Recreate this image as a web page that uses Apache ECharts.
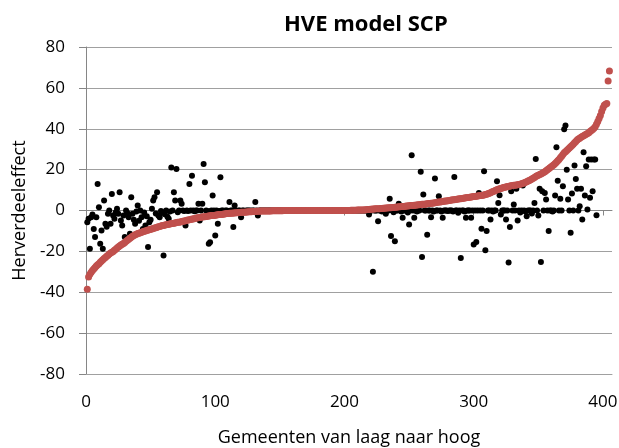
<!DOCTYPE html>
<html>
<head>
<meta charset="utf-8">
<script src="https://cdn.jsdelivr.net/npm/echarts@6/dist/echarts.min.js"></script>
<style>
  html, body { margin: 0; padding: 0; background: #fff; }
  #main { width: 619px; height: 448px; }
</style>
</head>
<body>
<div id="main"></div>
<script>
// herverdeeleffect per gemeente, gesorteerd (rode reeks)
// prettier-ignore
const redValues = [
  -38.5, -32.5, -31.2, -30.2, -29.4, -28.6, -27.9, -27.2, -26.6, -26.0,
  -25.3, -24.7, -24.1, -23.5, -23.0, -22.4, -21.9, -21.3, -20.8, -20.4,
  -20.0, -19.5, -19.0, -18.4, -17.9, -17.4, -16.9, -16.5, -16.1, -15.6,
  -15.1, -14.6, -14.1, -13.6, -13.1, -12.6, -12.2, -11.9, -11.6, -11.3,
  -11.1, -10.9, -10.6, -10.4, -10.2, -10.0, -9.8, -9.6, -9.4, -9.2,
  -9.0, -8.8, -8.6, -8.4, -8.2, -8.0, -7.8, -7.6, -7.4, -7.3,
  -7.1, -7.0, -6.8, -6.7, -6.6, -6.4, -6.3, -6.2, -6.1, -5.9,
  -5.8, -5.7, -5.6, -5.4, -5.3, -5.1, -5.0, -4.8, -4.7, -4.5,
  -4.4, -4.2, -4.1, -3.9, -3.8, -3.6, -3.5, -3.4, -3.3, -3.2,
  -3.1, -3.0, -2.9, -2.8, -2.7, -2.6, -2.5, -2.5, -2.4, -2.3,
  -2.2, -2.1, -2.0, -2.0, -1.9, -1.8, -1.7, -1.6, -1.5, -1.5,
  -1.4, -1.3, -1.3, -1.2, -1.2, -1.1, -1.1, -1.0, -1.0, -0.9,
  -0.9, -0.8, -0.8, -0.7, -0.7, -0.6, -0.6, -0.6, -0.5, -0.5,
  -0.5, -0.4, -0.4, -0.4, -0.3, -0.3, -0.3, -0.3, -0.2, -0.2,
  -0.2, -0.2, -0.2, -0.1, -0.1, -0.1, -0.1, -0.1, -0.1, -0.1,
  -0.1, -0.1, 0, 0, 0, 0, 0, 0, 0, 0,
  0, 0, 0, 0, 0, 0, 0, 0, 0, 0,
  0, 0, 0, 0, 0, 0, 0, 0, 0, 0,
  0, 0, 0, 0, 0, 0, 0, 0, 0, 0,
  0, 0, 0, 0, 0, 0, 0, 0, 0, 0,
  0, 0, 0, 0, 0.1, 0.1, 0.1, 0.1, 0.1, 0.2,
  0.2, 0.2, 0.3, 0.3, 0.3, 0.4, 0.4, 0.5, 0.5, 0.6,
  0.6, 0.7, 0.7, 0.8, 0.8, 0.9, 0.9, 1.0, 1.0, 1.1,
  1.1, 1.2, 1.2, 1.3, 1.3, 1.4, 1.5, 1.5, 1.6, 1.6,
  1.7, 1.8, 1.8, 1.9, 2.0, 2.0, 2.1, 2.2, 2.2, 2.3,
  2.4, 2.4, 2.5, 2.6, 2.6, 2.7, 2.8, 2.8, 2.9, 3.0,
  3.1, 3.1, 3.2, 3.3, 3.4, 3.4, 3.5, 3.6, 3.7, 3.8,
  3.9, 4.0, 4.1, 4.2, 4.3, 4.4, 4.5, 4.6, 4.7, 4.8,
  4.9, 5.0, 5.1, 5.2, 5.3, 5.4, 5.5, 5.6, 5.7, 5.8,
  5.9, 6.0, 6.1, 6.2, 6.3, 6.4, 6.5, 6.6, 6.7, 6.8,
  6.9, 7.0, 7.1, 7.2, 7.3, 7.4, 7.5, 7.6, 7.8, 8.0,
  8.2, 8.4, 8.7, 9.0, 9.3, 9.6, 9.9, 10.2, 10.4, 10.6,
  10.8, 11.0, 11.2, 11.4, 11.5, 11.7, 11.8, 12.0, 12.1, 12.2,
  12.3, 12.4, 12.5, 12.6, 12.7, 12.9, 13.1, 13.3, 13.5, 13.8,
  14.1, 14.4, 14.7, 15.0, 15.4, 15.8, 16.2, 16.6, 17.0, 17.3,
  17.6, 17.9, 18.2, 18.6, 19.0, 19.4, 19.9, 20.4, 20.9, 21.4,
  21.9, 22.4, 23.0, 23.6, 24.3, 25.0, 25.8, 26.6, 27.4, 28.2,
  28.8, 29.4, 30.0, 30.6, 31.2, 31.8, 32.4, 33.1, 33.8, 34.5,
  35.0, 35.4, 35.8, 36.2, 36.6, 37.0, 37.3, 37.7, 38.1, 38.6,
  39.1, 39.6, 40.2, 41.0, 42.2, 43.6, 45.0, 46.5, 48.5, 50.2,
  51.5, 52.0, 52.3, 63.4, 68.3
];

// tweede reeks (zwart), zelfde volgorde van gemeenten
// prettier-ignore
const blackValues = [
  -5.7, -4.0, -18.7, -3.3, -2.0, -9.0, -13.0, -3.3, 13.0, 1.6,
  -16.3, -9.8, -18.7, 4.9, -6.5, -8.0, -1.6, 0.0, -6.5, 8.1,
  -2.4, -4.0, -0.8, 0.8, -1.6, 8.9, -4.9, -7.3, -2.4, -13.0,
  0.0, -1.2, -3.3, -11.4, 6.5, -1.6, -4.5, -6.5, -0.5, 2.4,
  -5.0, 0.0, -3.3, -9.0, -1.0, -7.3, -2.8, -17.9, -5.7, -4.5,
  0.8, 4.9, 6.5, -1.5, 8.9, -2.4, -3.3, -0.3, -0.8, -22.0,
  -1.8, 0.0, -3.0, -4.0, -0.5, 21.1, 0.0, 8.9, 4.9, 20.3,
  -0.8, 0.0, 4.9, 3.3, 0.0, -0.3, -7.3, 0.0, -0.2, 13.0,
  0.0, 17.0, 0.0, -0.4, 0.0, 0.0, 3.3, -4.9, 0.0, 3.3,
  22.8, 13.8, 0.0, -0.3, -16.3, -15.5, 0.0, 7.3, 0.0, -12.2,
  0.0, -6.5, -0.2, 16.3, 0.0, 0.0, -0.3, 0.0, 0.0, -0.2,
  4.1, 0.0, 0.0, -8.1, 2.4, 0.0, -0.2, 0.0, 0.0, -3.3,
  0.0, 0.0, -0.2, 0.0, 0.0, 0.0, 0.0, -0.1, 0.0, 0.0,
  4.1, 0.0, -2.4, 0.0, 0.0, 0.0, 0.0, 0.0, 0.0, 0.0,
  0, 0, 0, 0, 0, 0, 0, 0, 0, 0,
  0, 0, 0, 0, 0, 0, 0, 0, 0, 0,
  0, 0, 0, 0, 0, 0, 0, 0, 0, 0,
  0, 0, 0, 0, 0, 0, 0, 0, 0, 0,
  0, 0, 0, 0, 0, 0, 0, 0, 0, 0,
  0, 0, 0, 0, 0, 0, 0, 0, 0, 0,
  0, 0, 0, 0, 0, 0, 0, 0, 0, 0,
  0, 0, 0, 0, 0, 0, 0, 0, -2.0, 0,
  0, -30.0, 0, 0, 0, -5.2, 0, 0, -0.5, 0,
  0, -1.6, 0, 0, 5.7, -12.5, 0, -0.8, -15.0, 0,
  0, 3.3, 0, -0.5, -3.6, 0, 0, 0, -1.0, -6.8,
  0, 27.0, 0, -3.6, 0, -0.5, 0, 0, 18.9, -22.8,
  7.8, 0, 0, -11.9, 0, 0, -3.3, 0, -0.5, 15.6,
  0, 0, 7.0, 0, -0.5, -3.6, 0, 0, 0, -0.3,
  0, 0, 0, -0.5, 16.4, 0, 0, -1.1, 0, -23.3,
  0, 0, -0.5, -3.6, 0, 0, 0, -3.6, 0, -16.6,
  0, -15.4, 0, 8.6, 0, -8.9, 0, 19.2, -19.5, -10.0,
  0, 0, -4.4, 0, -0.5, 0, 0, 14.3, 3.7, 7.5,
  -2.0, 0, 0, 0, -4.4, 0, -25.5, -8.1, 9.4, 0,
  2.9, 0, 10.6, -4.9, 0, -1.0, 0, 12.2, 0, -0.5,
  -2.8, 0, 0, 0, -1.5, 0, 3.7, 25.2, 0, -2.4,
  10.6, -25.2, 9.4, 0, 8.6, 5.4, 0, -10.0, 0, 0,
  -0.5, 0, 7.3, 31.0, 14.6, 0, 5.7, 0, 11.9, 39.8,
  41.6, 20.0, 5.4, 0, -10.9, 8.3, 0, 22.0, 15.4, 10.6,
  0, 2.1, 10.6, -4.4, 28.5, 7.3, 21.6, 0.5, 24.9, 6.2,
  24.9, 9.4, 24.9, 24.9, -2.3
];

const xTicks = [0, 100, 200, 300, 400];
const yTicks = [-80, -60, -40, -20, 0, 20, 40, 60, 80];

const toPairs = (arr) => arr.map((v, i) => [i + 1, v]);

const fontFam = '"Open Sans", sans-serif';
const axisGray = '#868686';
const chart = echarts.init(document.getElementById('main'), null, { renderer: 'canvas' });

const xBase = { type: 'value', min: xTicks[0], max: 407, interval: 100, splitLine: { show: false } };

const option = {
  backgroundColor: '#fff',
  animation: false,
  title: {
    text: 'HVE model SCP',
    left: 279,
    top: 9,
    textStyle: { fontFamily: fontFam, fontSize: 22, fontWeight: 'bold', color: '#000' }
  },
  grid: { left: 86, right: 7, top: 47, bottom: 74, outerBoundsMode: 'none' },
  xAxis: [
    // labels along the bottom
    Object.assign({}, xBase, {
      position: 'bottom',
      name: 'Gemeenten van laag naar hoog',
      nameLocation: 'middle',
      nameGap: 55,
      nameTextStyle: { fontFamily: fontFam, fontSize: 18, color: '#000' },
      axisLine: { onZero: false, lineStyle: { color: '#a0a0a0', width: 1 } },
      axisTick: { show: false },
      axisLabel: {
        margin: 20,
        fontFamily: fontFam,
        fontSize: 17,
        color: '#000',
        customValues: xTicks
      }
    }),
    // the real axis line crosses at y = 0, with small ticks
    Object.assign({}, xBase, {
      position: 'bottom',
      axisLine: { onZero: true, lineStyle: { color: axisGray, width: 1 } },
      axisTick: { show: true, length: 5, customValues: xTicks, lineStyle: { color: axisGray } },
      axisLabel: { show: false }
    })
  ],
  yAxis: {
    type: 'value',
    min: yTicks[0],
    max: yTicks[yTicks.length - 1],
    interval: 20,
    name: 'Herverdeeleffect',
    nameLocation: 'middle',
    nameRotate: 90,
    nameGap: 56,
    nameTextStyle: { fontFamily: fontFam, fontSize: 18, color: '#000' },
    axisLine: { show: true, onZero: false, lineStyle: { color: axisGray, width: 1 } },
    axisTick: { show: true, length: 7, lineStyle: { color: axisGray } },
    splitLine: { lineStyle: { color: '#a0a0a0', width: 1 } },
    axisLabel: { margin: 21, fontFamily: fontFam, fontSize: 17, color: '#000' }
  },
  series: [
    {
      name: 'zwart',
      type: 'scatter',
      xAxisIndex: 0,
      symbolSize: 6,
      itemStyle: { color: '#000', opacity: 1 },
      data: toPairs(blackValues)
    },
    {
      name: 'rood',
      type: 'scatter',
      xAxisIndex: 0,
      symbolSize: 7,
      itemStyle: { color: '#c0504d', opacity: 1 },
      data: toPairs(redValues)
    }
  ]
};

chart.setOption(option);
</script>
</body>
</html>
